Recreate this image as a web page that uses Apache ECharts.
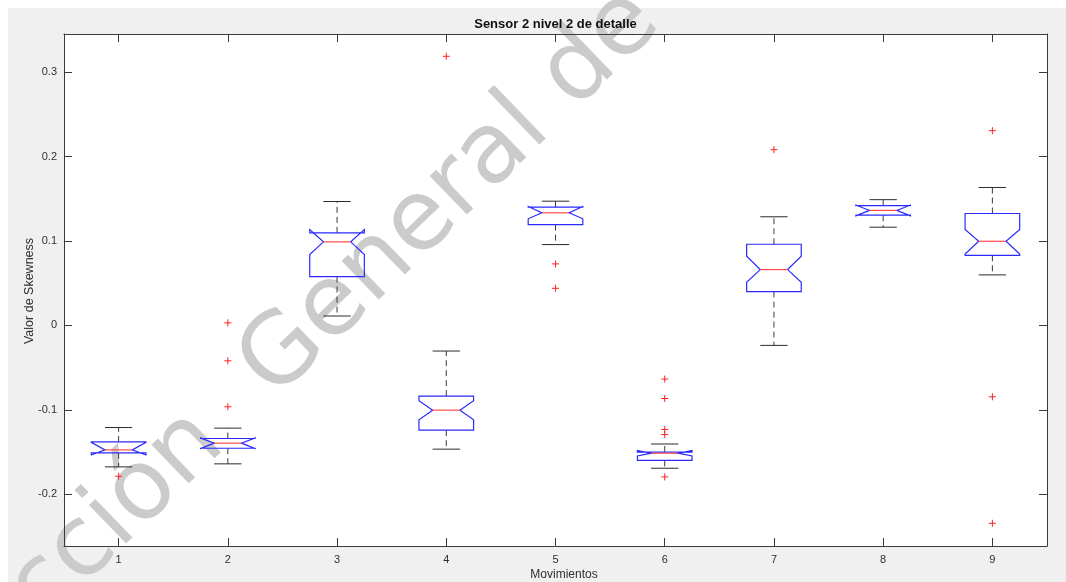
<!DOCTYPE html>
<html><head><meta charset="utf-8">
<script src="https://cdn.jsdelivr.net/npm/echarts@6/dist/echarts.min.js"></script>
<style>html,body{margin:0;padding:0;background:#fff}#c{width:1066px;height:582px}</style>
</head><body><div id="c"></div>
<script>
const categories = ['1','2','3','4','5','6','7','8','9'];
const whiskerLow  = [-0.1676, -0.1640, 0.0111, -0.1466, 0.0957, -0.1692, -0.0237, 0.1163, 0.0598];
const q1          = [-0.1510, -0.1455, 0.0578, -0.1241, 0.1194, -0.1600, 0.0400, 0.1305, 0.0830];
const notchLow    = [-0.1535, -0.1460, 0.0839, -0.1119, 0.1262, -0.1547, 0.0510, 0.1298, 0.0845];
const median      = [-0.1475, -0.1395, 0.0989, -0.1004, 0.1333, -0.1514, 0.0661, 0.1362, 0.0996];
const notchHigh   = [-0.1385, -0.1333, 0.1135, -0.0893, 0.1408, -0.1483, 0.0819, 0.1425, 0.1135];
const q3          = [-0.1380, -0.1340, 0.1096, -0.0838, 0.1400, -0.1500, 0.0961, 0.1418, 0.1325];
const whiskerHigh = [-0.1210, -0.1217, 0.1467, -0.0304, 0.1471, -0.1405, 0.1286, 0.1489, 0.1633];
const outlierCat  = [0, 1, 1, 1, 3, 4, 4, 5, 5, 5, 5, 5, 6, 8, 8, 8];
const outlierVal  = [-0.1787, 0.003, -0.042, -0.0964, 0.3187, 0.0728, 0.0439, -0.0636, -0.0866, -0.1233, -0.1293, -0.1795, 0.2081, 0.2306, -0.0846, -0.2344];
const yTicks = [-0.2, -0.1, 0, 0.1, 0.2, 0.3];
const yMin = -0.2613, yMax = 0.3451;

const titleText = 'Sensor 2 nivel 2 de detalle';
const xName = 'Movimientos';
const yName = 'Valor de Skewness';

const boxData = categories.map((c, i) => [i, whiskerLow[i], q1[i], notchLow[i], median[i], notchHigh[i], q3[i], whiskerHigh[i]]);
const outData = outlierCat.map((c, i) => [c, outlierVal[i]]);

const axisColor = '#3a3a3a';
const textColor = '#303030';

const chart = echarts.init(document.getElementById('c'), null, {renderer: 'canvas'});

const th = 44 * Math.PI / 180;
const wmFs = 98;
const B = [280, 406];
const gap = 35;
const B2 = [B[0] - gap * Math.cos(th), B[1] + gap * Math.sin(th)];
const off = 0.34 * wmFs;
const up = [-off * Math.sin(th), -off * Math.cos(th)];
const A = [B[0] + up[0], B[1] + up[1]];
const A2 = [B2[0] + up[0], B2[1] + up[1]];
const wmFont = wmFs + 'px "DejaVu Sans", sans-serif';
const wmColor = '#cbcbcb';

function fmt(v) {
  const r = Math.round(v * 10) / 10;
  return r === 0 ? '0' : String(r);
}

chart.setOption({
  backgroundColor: '#ffffff',
  animation: false,
  grid: {left: 64, top: 34, right: 19, bottom: 36, show: true, backgroundColor: '#ffffff', borderWidth: 0, z: 0},
  graphic: [
    {type: 'rect', z: -5, silent: true, shape: {x: 8, y: 8, width: 1058, height: 574}, style: {fill: '#f0f0f0'}},
    {type: 'text', z: 1, silent: true, x: A2[0], y: A2[1], rotation: th,
      style: {text: 'Dirección ', font: wmFont, fill: wmColor, align: 'right', verticalAlign: 'middle'}},
    {type: 'text', z: 1, silent: true, x: A[0], y: A[1], rotation: th,
      style: {text: 'General de Bibliotecas', font: wmFont, fill: wmColor, align: 'left', verticalAlign: 'middle'}},
    {type: 'text', z: 6, x: 555.5, y: 24,
      style: {text: titleText, font: 'bold 13px "Liberation Sans", Arial, sans-serif', fill: '#111', align: 'center', verticalAlign: 'middle'}},
    {type: 'text', z: 6, x: 564, y: 575,
      style: {text: xName, font: '12px "Liberation Sans", Arial, sans-serif', fill: textColor, align: 'center', verticalAlign: 'middle'}},
    {type: 'text', z: 6, x: 30, y: 291, rotation: Math.PI / 2,
      style: {text: yName, font: '12.5px "Liberation Sans", Arial, sans-serif', fill: textColor, align: 'center', verticalAlign: 'middle'}}
  ],
  xAxis: [
    {type: 'category', data: categories, position: 'bottom', boundaryGap: true, z: 3,
      axisLine: {show: true, onZero: false, lineStyle: {color: axisColor, width: 1}},
      axisTick: {show: true, inside: true, alignWithLabel: true, length: 8, lineStyle: {color: axisColor}},
      axisLabel: {color: textColor, fontSize: 11, margin: 8, fontFamily: '"Liberation Sans", Arial, sans-serif'},
      splitLine: {show: false}},
    {type: 'category', data: categories, position: 'top', boundaryGap: true, z: 3,
      axisLine: {show: true, onZero: false, lineStyle: {color: axisColor, width: 1}},
      axisTick: {show: true, inside: true, alignWithLabel: true, length: 8, lineStyle: {color: axisColor}},
      axisLabel: {show: false}, splitLine: {show: false}}
  ],
  yAxis: [
    {type: 'value', min: yMin, max: yMax, position: 'left', z: 3,
      axisLine: {show: true, onZero: false, lineStyle: {color: axisColor, width: 1}},
      axisTick: {show: true, inside: true, length: 8, customValues: yTicks, lineStyle: {color: axisColor}},
      axisLabel: {customValues: yTicks, formatter: fmt, color: textColor, fontSize: 11, margin: 7, fontFamily: '"Liberation Sans", Arial, sans-serif'},
      splitLine: {show: false}},
    {type: 'value', min: yMin, max: yMax, position: 'right', z: 3,
      axisLine: {show: true, onZero: false, lineStyle: {color: axisColor, width: 1}},
      axisTick: {show: true, inside: true, length: 8, customValues: yTicks, lineStyle: {color: axisColor}},
      axisLabel: {show: false}, splitLine: {show: false}}
  ],
  series: [
    {
      type: 'custom', z: 5, xAxisIndex: 0, yAxisIndex: 0,
      data: boxData,
      encode: {x: 0, y: [1, 2, 3, 4, 5, 6, 7]},
      renderItem: function (params, api) {
        const i = api.value(0);
        const Y = v => api.coord([i, v])[1];
        const cx = api.coord([i, api.value(4)])[0];
        const bw = api.size([1, 0])[0] * 0.5;
        const x1 = cx - bw / 2, x2 = cx + bw / 2, xi1 = cx - bw / 4, xi2 = cx + bw / 4;
        const ywl = Y(api.value(1)), yq1 = Y(api.value(2)), ynl = Y(api.value(3)), ymd = Y(api.value(4));
        const ynh = Y(api.value(5)), yq3 = Y(api.value(6)), ywh = Y(api.value(7));
        const black = {stroke: '#2b2b2b', lineWidth: 1};
        const dash = {stroke: '#3b3b3b', lineWidth: 1, lineDash: [6, 4]};
        return {
          type: 'group',
          children: [
            {type: 'line', shape: {x1: cx, y1: yq3, x2: cx, y2: ywh}, style: dash},
            {type: 'line', shape: {x1: cx, y1: yq1, x2: cx, y2: ywl}, style: dash},
            {type: 'line', shape: {x1: xi1, y1: ywh, x2: xi2, y2: ywh}, style: black},
            {type: 'line', shape: {x1: xi1, y1: ywl, x2: xi2, y2: ywl}, style: black},
            {type: 'polygon', shape: {points: [
              [x1, yq1], [x1, ynl], [xi1, ymd], [x1, ynh], [x1, yq3],
              [x2, yq3], [x2, ynh], [xi2, ymd], [x2, ynl], [x2, yq1]
            ]}, style: {fill: 'none', stroke: '#2a2aff', lineWidth: 1.2}},
            {type: 'line', shape: {x1: xi1, y1: ymd, x2: xi2, y2: ymd}, style: {stroke: '#ff4a4a', lineWidth: 1.2}}
          ]
        };
      }
    },
    {
      type: 'custom', z: 6, xAxisIndex: 0, yAxisIndex: 0,
      data: outData,
      encode: {x: 0, y: 1},
      renderItem: function (params, api) {
        const p = api.coord([api.value(0), api.value(1)]);
        const h = 3.5;
        const st = {stroke: '#ff2020', lineWidth: 1};
        return {
          type: 'group',
          children: [
            {type: 'line', shape: {x1: p[0] - h, y1: p[1], x2: p[0] + h, y2: p[1]}, style: st},
            {type: 'line', shape: {x1: p[0], y1: p[1] - h, x2: p[0], y2: p[1] + h}, style: st}
          ]
        };
      }
    }
  ]
});
</script>
</body></html>
